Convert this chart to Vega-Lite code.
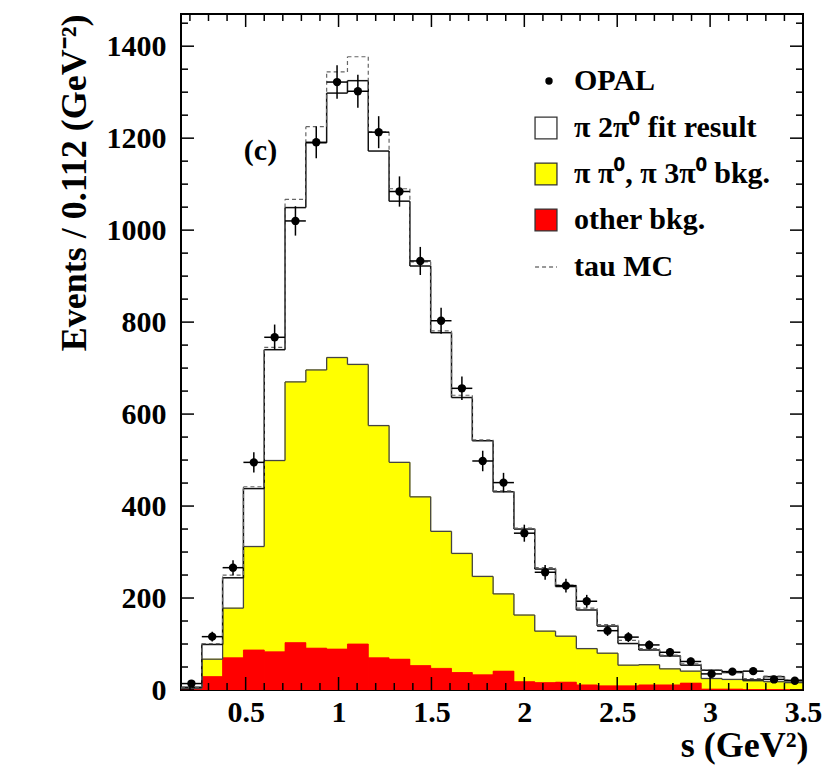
{
  "$schema": "https://vega.github.io/schema/vega-lite/v6.json",
  "width": 622,
  "height": 676,
  "autosize": "none",
  "padding": {"left": 181, "top": 14, "right": 24, "bottom": 82},
  "background": "white",
  "config": {
    "view": {"stroke": "black", "strokeWidth": 2},
    "axis": {"grid": false, "domain": false},
    "legend": {"labelFont": "Liberation Serif", "labelFontWeight": "bold", "labelFontSize": 30, "labelColor": "black", "labelLimit": 500, "padding": 0, "rowPadding": 16, "orient": "none"}
  },
  "datasets": {
    "xticks": [
      {"v": 0.2, "kind": "minor"}, {"v": 0.3, "kind": "minor"}, {"v": 0.4, "kind": "minor"}, {"v": 0.5, "kind": "major"},
      {"v": 0.6, "kind": "minor"}, {"v": 0.7, "kind": "minor"}, {"v": 0.8, "kind": "minor"}, {"v": 0.9, "kind": "minor"}, {"v": 1.0, "kind": "major"},
      {"v": 1.1, "kind": "minor"}, {"v": 1.2, "kind": "minor"}, {"v": 1.3, "kind": "minor"}, {"v": 1.4, "kind": "minor"}, {"v": 1.5, "kind": "major"},
      {"v": 1.6, "kind": "minor"}, {"v": 1.7, "kind": "minor"}, {"v": 1.8, "kind": "minor"}, {"v": 1.9, "kind": "minor"}, {"v": 2.0, "kind": "major"},
      {"v": 2.1, "kind": "minor"}, {"v": 2.2, "kind": "minor"}, {"v": 2.3, "kind": "minor"}, {"v": 2.4, "kind": "minor"}, {"v": 2.5, "kind": "major"},
      {"v": 2.6, "kind": "minor"}, {"v": 2.7, "kind": "minor"}, {"v": 2.8, "kind": "minor"}, {"v": 2.9, "kind": "minor"}, {"v": 3.0, "kind": "major"},
      {"v": 3.1, "kind": "minor"}, {"v": 3.2, "kind": "minor"}, {"v": 3.3, "kind": "minor"}, {"v": 3.4, "kind": "minor"}, {"v": 3.5, "kind": "major"}
    ],
    "yticks": [
      {"v": 0, "kind": "major"}, {"v": 50, "kind": "minor"}, {"v": 100, "kind": "minor"}, {"v": 150, "kind": "minor"},
      {"v": 200, "kind": "major"}, {"v": 250, "kind": "minor"}, {"v": 300, "kind": "minor"}, {"v": 350, "kind": "minor"},
      {"v": 400, "kind": "major"}, {"v": 450, "kind": "minor"}, {"v": 500, "kind": "minor"}, {"v": 550, "kind": "minor"},
      {"v": 600, "kind": "major"}, {"v": 650, "kind": "minor"}, {"v": 700, "kind": "minor"}, {"v": 750, "kind": "minor"},
      {"v": 800, "kind": "major"}, {"v": 850, "kind": "minor"}, {"v": 900, "kind": "minor"}, {"v": 950, "kind": "minor"},
      {"v": 1000, "kind": "major"}, {"v": 1050, "kind": "minor"}, {"v": 1100, "kind": "minor"}, {"v": 1150, "kind": "minor"},
      {"v": 1200, "kind": "major"}, {"v": 1250, "kind": "minor"}, {"v": 1300, "kind": "minor"}, {"v": 1350, "kind": "minor"},
      {"v": 1400, "kind": "major"}, {"v": 1450, "kind": "minor"}
    ],
    "bins": [
      {"x0": 0.152, "x1": 0.264, "xc": 0.208, "data": 14, "err": 3.7, "fit": 6, "mc": 6, "bkg": 3, "oth": 2},
      {"x0": 0.264, "x1": 0.376, "xc": 0.320, "data": 116, "err": 10.8, "fit": 99, "mc": 101, "bkg": 67, "oth": 29},
      {"x0": 0.376, "x1": 0.488, "xc": 0.432, "data": 266, "err": 16.3, "fit": 244, "mc": 250, "bkg": 178, "oth": 70},
      {"x0": 0.488, "x1": 0.600, "xc": 0.544, "data": 495, "err": 22.2, "fit": 438, "mc": 442, "bkg": 312, "oth": 87},
      {"x0": 0.600, "x1": 0.712, "xc": 0.656, "data": 767, "err": 27.7, "fit": 740, "mc": 745, "bkg": 499, "oth": 83},
      {"x0": 0.712, "x1": 0.824, "xc": 0.768, "data": 1020, "err": 31.9, "fit": 1049, "mc": 1067, "bkg": 670, "oth": 103},
      {"x0": 0.824, "x1": 0.936, "xc": 0.880, "data": 1191, "err": 34.5, "fit": 1190, "mc": 1225, "bkg": 696, "oth": 91},
      {"x0": 0.936, "x1": 1.048, "xc": 0.992, "data": 1322, "err": 36.4, "fit": 1298, "mc": 1344, "bkg": 723, "oth": 89},
      {"x0": 1.048, "x1": 1.160, "xc": 1.104, "data": 1302, "err": 36.1, "fit": 1325, "mc": 1377, "bkg": 708, "oth": 100},
      {"x0": 1.160, "x1": 1.272, "xc": 1.216, "data": 1213, "err": 34.8, "fit": 1172, "mc": 1214, "bkg": 575, "oth": 70},
      {"x0": 1.272, "x1": 1.384, "xc": 1.328, "data": 1084, "err": 32.9, "fit": 1063, "mc": 1090, "bkg": 495, "oth": 67},
      {"x0": 1.384, "x1": 1.496, "xc": 1.440, "data": 933, "err": 30.5, "fit": 922, "mc": 931, "bkg": 420, "oth": 53},
      {"x0": 1.496, "x1": 1.608, "xc": 1.552, "data": 803, "err": 28.3, "fit": 777, "mc": 781, "bkg": 345, "oth": 47},
      {"x0": 1.608, "x1": 1.720, "xc": 1.664, "data": 656, "err": 25.6, "fit": 636, "mc": 641, "bkg": 297, "oth": 38},
      {"x0": 1.720, "x1": 1.832, "xc": 1.776, "data": 498, "err": 22.3, "fit": 542, "mc": 544, "bkg": 247, "oth": 33},
      {"x0": 1.832, "x1": 1.944, "xc": 1.888, "data": 451, "err": 21.2, "fit": 431, "mc": 433, "bkg": 209, "oth": 41},
      {"x0": 1.944, "x1": 2.056, "xc": 2.000, "data": 341, "err": 18.5, "fit": 350, "mc": 352, "bkg": 163, "oth": 18},
      {"x0": 2.056, "x1": 2.168, "xc": 2.112, "data": 256, "err": 16.0, "fit": 263, "mc": 266, "bkg": 128, "oth": 16},
      {"x0": 2.168, "x1": 2.280, "xc": 2.224, "data": 227, "err": 15.1, "fit": 225, "mc": 228, "bkg": 117, "oth": 17},
      {"x0": 2.280, "x1": 2.392, "xc": 2.336, "data": 193, "err": 13.9, "fit": 174, "mc": 178, "bkg": 90, "oth": 11},
      {"x0": 2.392, "x1": 2.504, "xc": 2.448, "data": 129, "err": 11.4, "fit": 139, "mc": 142, "bkg": 80, "oth": 9},
      {"x0": 2.504, "x1": 2.616, "xc": 2.560, "data": 115, "err": 10.7, "fit": 101, "mc": 108, "bkg": 54, "oth": 9},
      {"x0": 2.616, "x1": 2.728, "xc": 2.672, "data": 98, "err": 9.9, "fit": 87, "mc": 90, "bkg": 55, "oth": 11},
      {"x0": 2.728, "x1": 2.840, "xc": 2.784, "data": 82, "err": 9.1, "fit": 74, "mc": 76, "bkg": 46, "oth": 11},
      {"x0": 2.840, "x1": 2.952, "xc": 2.896, "data": 62, "err": 7.9, "fit": 54, "mc": 57, "bkg": 41, "oth": 15},
      {"x0": 2.952, "x1": 3.064, "xc": 3.008, "data": 35, "err": 5.9, "fit": 43, "mc": 44, "bkg": 25, "oth": 2},
      {"x0": 3.064, "x1": 3.176, "xc": 3.120, "data": 40, "err": 6.3, "fit": 38, "mc": 39, "bkg": 23, "oth": 2},
      {"x0": 3.176, "x1": 3.288, "xc": 3.232, "data": 41, "err": 6.4, "fit": 22, "mc": 25, "bkg": 20, "oth": 1},
      {"x0": 3.288, "x1": 3.400, "xc": 3.344, "data": 23, "err": 4.8, "fit": 29, "mc": 30, "bkg": 18, "oth": 1},
      {"x0": 3.400, "x1": 3.512, "xc": 3.456, "data": 20, "err": 4.5, "fit": 21, "mc": 22, "bkg": 16, "oth": 1}
    ]
  },
  "data": {"name": "bins"},
  "transform": [
    {"window": [
      {"op": "lead", "field": "fit", "as": "fit_n"},
      {"op": "lead", "field": "mc", "as": "mc_n"},
      {"op": "lead", "field": "bkg", "as": "bkg_n"}
    ], "sort": [{"field": "x0"}]}
  ],
  "resolve": {"axis": {"x": "independent", "y": "independent"}},
  "layer": [
    {
      "mark": {"type": "rect", "clip": true, "opacity": 1},
      "encoding": {
        "x": {"field": "x0", "type": "quantitative",
          "scale": {"domain": [0.152, 3.5], "nice": false, "zero": false},
          "axis": {"orient": "bottom", "values": [0.5, 1, 1.5, 2, 2.5, 3, 3.5], "format": "~g",
            "ticks": false, "tickSize": 0, "domain": false, "labelPadding": 7,
            "labelFont": "Liberation Serif", "labelFontWeight": "bold", "labelFontSize": 30, "labelColor": "black",
            "labelFlush": false, "labelOverlap": false,
            "title": "s (GeV²)", "titleFont": "Liberation Serif", "titleFontWeight": "bold", "titleFontSize": 36,
            "titleColor": "black", "titleX": 627, "titleY": 66, "titleAlign": "right", "titleBaseline": "alphabetic"}},
        "x2": {"field": "x1"},
        "y": {"field": "fit", "type": "quantitative",
          "scale": {"domain": [0, 1470], "nice": false, "zero": true},
          "axis": {"orient": "left", "values": [0, 200, 400, 600, 800, 1000, 1200, 1400], "format": "d",
            "ticks": false, "tickSize": 0, "domain": false, "labelPadding": 15,
            "labelFont": "Liberation Serif", "labelFontWeight": "bold", "labelFontSize": 30, "labelColor": "black",
            "labelFlush": false, "labelOverlap": false,
            "title": "Events / 0.112 (GeV⁻²)", "titleFont": "Liberation Serif", "titleFontWeight": "bold", "titleFontSize": 36,
            "titleColor": "black", "titleAngle": 270, "titleX": -96, "titleY": 0, "titleAlign": "right", "titleBaseline": "alphabetic"}},
        "y2": {"datum": 0},
        "fill": {"datum": "π 2π⁰ fit result", "type": "nominal",
          "scale": {"domain": ["π 2π⁰ fit result", "π π⁰, π 3π⁰ bkg.", "other bkg."],
                    "range": ["white", "#ffff00", "#ff0000"]},
          "legend": {"orient": "none", "legendX": 350, "legendY": 99, "title": null,
            "labelOffset": 13, "symbolSize": 480, "symbolType": "square",
            "symbolStrokeColor": "#333333", "symbolStrokeWidth": 1.3, "symbolOpacity": 1}}
      }
    },
    {
      "mark": {"type": "rect", "clip": true, "opacity": 1},
      "encoding": {
        "x": {"field": "x0", "type": "quantitative", "axis": null},
        "x2": {"field": "x1"},
        "y": {"field": "bkg", "type": "quantitative", "axis": null},
        "y2": {"datum": 0},
        "fill": {"datum": "π π⁰, π 3π⁰ bkg.", "type": "nominal"}
      }
    },
    {
      "mark": {"type": "rect", "clip": true, "opacity": 1, "fill": "#ffff00", "stroke": "#ffff00", "strokeWidth": 0.8},
      "encoding": {
        "x": {"field": "x0", "type": "quantitative", "axis": null},
        "x2": {"field": "x1"},
        "y": {"field": "bkg", "type": "quantitative", "axis": null},
        "y2": {"datum": 0}
      }
    },
    {
      "mark": {"type": "rect", "clip": true, "opacity": 1},
      "encoding": {
        "x": {"field": "x0", "type": "quantitative", "axis": null},
        "x2": {"field": "x1"},
        "y": {"field": "oth", "type": "quantitative", "axis": null},
        "y2": {"datum": 0},
        "fill": {"datum": "other bkg.", "type": "nominal"}
      }
    },
    {
      "mark": {"type": "rect", "clip": true, "opacity": 1, "fill": "#ff0000", "stroke": "#ff0000", "strokeWidth": 0.8},
      "encoding": {
        "x": {"field": "x0", "type": "quantitative", "axis": null},
        "x2": {"field": "x1"},
        "y": {"field": "oth", "type": "quantitative", "axis": null},
        "y2": {"datum": 0}
      }
    },
    {
      "mark": {"type": "rule", "clip": true, "color": "#444444", "strokeWidth": 1.3},
      "encoding": {
        "x": {"field": "x0", "type": "quantitative", "axis": null},
        "x2": {"field": "x1"},
        "y": {"field": "bkg", "type": "quantitative", "axis": null}
      }
    },
    {
      "transform": [{"filter": "isValid(datum.bkg_n)"}],
      "mark": {"type": "rule", "clip": true, "color": "#444444", "strokeWidth": 1.3},
      "encoding": {
        "x": {"field": "x1", "type": "quantitative", "axis": null},
        "y": {"field": "bkg", "type": "quantitative", "axis": null},
        "y2": {"field": "bkg_n"}
      }
    },
    {
      "mark": {"type": "rule", "clip": true, "color": "#111111", "strokeWidth": 1.5},
      "encoding": {
        "x": {"field": "x0", "type": "quantitative", "axis": null},
        "x2": {"field": "x1"},
        "y": {"field": "fit", "type": "quantitative", "axis": null}
      }
    },
    {
      "transform": [{"filter": "isValid(datum.fit_n)"}],
      "mark": {"type": "rule", "clip": true, "color": "#111111", "strokeWidth": 1.5},
      "encoding": {
        "x": {"field": "x1", "type": "quantitative", "axis": null},
        "y": {"field": "fit", "type": "quantitative", "axis": null},
        "y2": {"field": "fit_n"}
      }
    },
    {
      "mark": {"type": "rule", "clip": true, "color": "#666666", "strokeWidth": 1.2},
      "encoding": {
        "x": {"field": "x0", "type": "quantitative", "axis": null},
        "x2": {"field": "x1"},
        "y": {"field": "mc", "type": "quantitative", "axis": null},
        "strokeDash": {"datum": "tau MC", "type": "nominal",
          "scale": {"domain": ["tau MC"], "range": [[4, 3]]},
          "legend": {"orient": "none", "legendX": 350, "legendY": 238, "title": null,
            "labelOffset": 13, "symbolSize": 480, "symbolType": "stroke",
            "symbolStrokeColor": "#777777", "symbolStrokeWidth": 1.3}}
      }
    },
    {
      "transform": [{"filter": "isValid(datum.mc_n)"}],
      "mark": {"type": "rule", "clip": true, "color": "#666666", "strokeWidth": 1.2, "strokeDash": [4, 3]},
      "encoding": {
        "x": {"field": "x1", "type": "quantitative", "axis": null},
        "y": {"field": "mc", "type": "quantitative", "axis": null},
        "y2": {"field": "mc_n"}
      }
    },
    {
      "mark": {"type": "rule", "clip": true, "color": "black", "strokeWidth": 1.5},
      "encoding": {
        "x": {"field": "x0", "type": "quantitative", "axis": null},
        "x2": {"field": "x1"},
        "y": {"field": "data", "type": "quantitative", "axis": null}
      }
    },
    {
      "mark": {"type": "errorbar", "color": "black", "thickness": 1.5},
      "encoding": {
        "x": {"field": "xc", "type": "quantitative", "axis": null},
        "y": {"field": "data", "type": "quantitative", "axis": null},
        "yError": {"field": "err"}
      }
    },
    {
      "mark": {"type": "point", "filled": true, "color": "black", "size": 70, "opacity": 1},
      "encoding": {
        "x": {"field": "xc", "type": "quantitative", "axis": null},
        "y": {"field": "data", "type": "quantitative", "axis": null},
        "shape": {"datum": "OPAL", "type": "nominal",
          "scale": {"domain": ["OPAL"], "range": ["circle"]},
          "legend": {"orient": "none", "legendX": 353, "legendY": 52, "title": null,
            "labelOffset": 10, "symbolSize": 55, "symbolFillColor": "black", "symbolStrokeColor": "black", "symbolOpacity": 1}}
      }
    },
    {
      "data": {"values": [{"label": "(c)"}]},
      "mark": {"type": "text", "font": "Liberation Serif", "fontWeight": "bold", "fontSize": 30, "align": "center", "baseline": "alphabetic", "fill": "black"},
      "encoding": {
        "x": {"datum": 0.58, "type": "quantitative", "axis": null},
        "y": {"datum": 1152, "type": "quantitative", "axis": null},
        "text": {"field": "label"}
      }
    },
    {
      "data": {"name": "xticks"},
      "mark": {"type": "tick", "orient": "vertical", "clip": true, "color": "black", "thickness": 1.5, "opacity": 1},
      "encoding": {
        "x": {"field": "v", "type": "quantitative", "axis": null},
        "y": {"datum": 0, "type": "quantitative", "axis": null},
        "size": {"field": "kind", "type": "nominal", "scale": {"domain": ["major", "minor"], "range": [26, 14]}, "legend": null}
      }
    },
    {
      "data": {"name": "xticks"},
      "mark": {"type": "tick", "orient": "vertical", "clip": true, "color": "black", "thickness": 1.5, "opacity": 1},
      "encoding": {
        "x": {"field": "v", "type": "quantitative", "axis": null},
        "y": {"datum": 1470, "type": "quantitative", "axis": null},
        "size": {"field": "kind", "type": "nominal", "legend": null}
      }
    },
    {
      "data": {"name": "yticks"},
      "mark": {"type": "tick", "orient": "horizontal", "clip": true, "color": "black", "thickness": 1.5, "opacity": 1},
      "encoding": {
        "y": {"field": "v", "type": "quantitative", "axis": null},
        "x": {"datum": 0.152, "type": "quantitative", "axis": null},
        "size": {"field": "kind", "type": "nominal", "legend": null}
      }
    },
    {
      "data": {"name": "yticks"},
      "mark": {"type": "tick", "orient": "horizontal", "clip": true, "color": "black", "thickness": 1.5, "opacity": 1},
      "encoding": {
        "y": {"field": "v", "type": "quantitative", "axis": null},
        "x": {"datum": 3.5, "type": "quantitative", "axis": null},
        "size": {"field": "kind", "type": "nominal", "legend": null}
      }
    }
  ]
}
